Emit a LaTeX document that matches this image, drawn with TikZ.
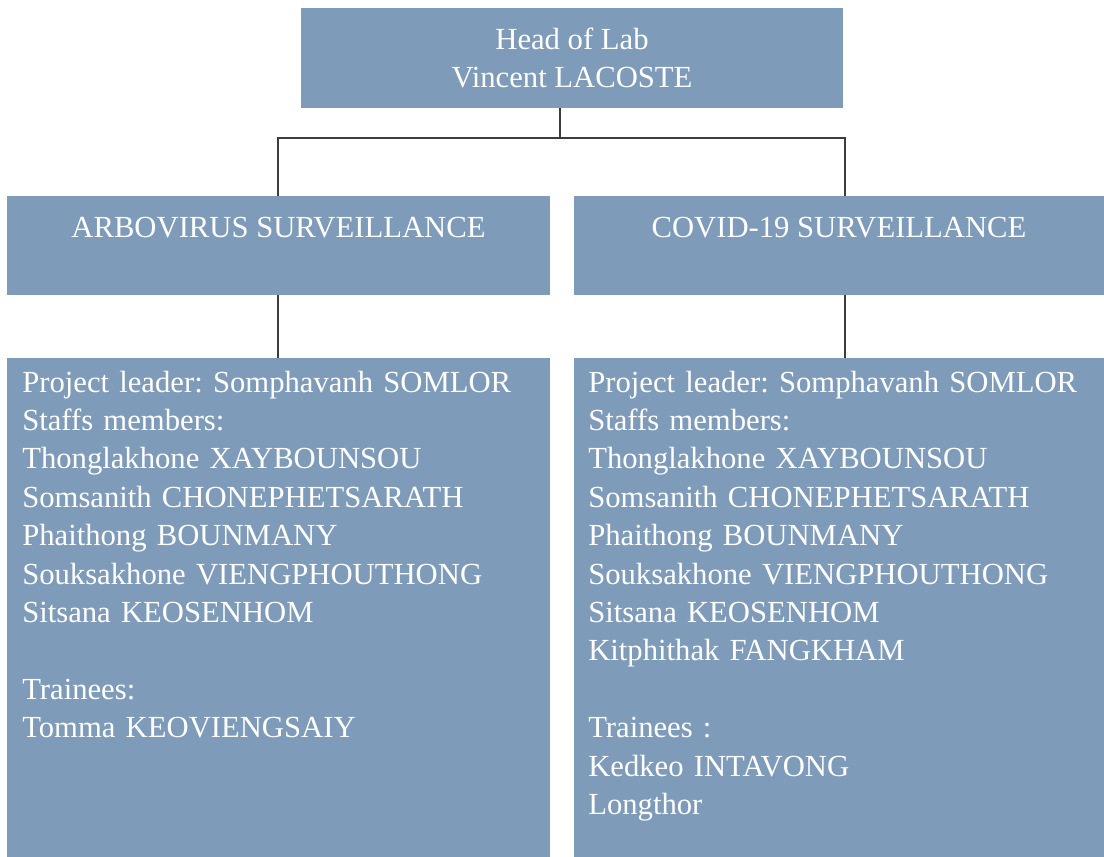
\documentclass[tikz,border=0pt]{standalone}
\usepackage{fontspec}
\setmainfont{Liberation Serif}
\frenchspacing
\definecolor{panelblue}{RGB}{127,155,186}
\definecolor{linkgray}{RGB}{60,60,60}
\begin{document}
\begin{tikzpicture}[x=0.75pt,y=0.75pt,yscale=-1,xscale=1,
    panel/.style={fill=panelblue,draw=none,inner sep=0pt,outer sep=0pt,text=white,
      font=\fontsize{23}{28.8}\selectfont,align=center},
    listtext/.style={anchor=base west,inner sep=0pt,text=white,text width=380pt,
      align=left,font=\fontsize{23}{28.8}\selectfont},
    link/.style={draw=linkgray,line width=1.1pt}]
  \useasboundingbox[fill=white] (0,0) rectangle (1104,857);
  %Shape: Rectangle [head]
  \node [panel,minimum width=406.5pt,minimum height=75pt] (head) at (572,58) {Head of Lab\\Vincent LACOSTE};
  %Shape: Rectangle [arbo]
  \node [panel,minimum width=407.25pt,minimum height=74.25pt] (arbo) at (278.5,245.5) {ARBOVIRUS SURVEILLANCE\\[-10pt]\strut};
  %Shape: Rectangle [covid]
  \node [panel,minimum width=397.5pt,minimum height=74.25pt] (covid) at (839,245.5) {COVID-19 SURVEILLANCE\\[-10pt]\strut};
  %Shape: Rectangle [arboteam]
  \node [panel,minimum width=407.25pt,minimum height=374.25pt] (arboteam) at (278.5,607.5) {};
  %Shape: Rectangle [covidteam]
  \node [panel,minimum width=397.5pt,minimum height=374.25pt] (covidteam) at (839,607.5) {};

  % Text Node
  \node [listtext] (arbolist) at (22,392) {Project leader: Somphavanh SOMLOR\\
    Staffs members:\\
    Thonglakhone XAYBOUNSOU\\
    Somsanith CHONEPHETSARATH\\
    Phaithong BOUNMANY\\
    Souksakhone VIENGPHOUTHONG\\
    Sitsana KEOSENHOM\\
    ~\\
    Trainees:\\
    Tomma KEOVIENGSAIY};
  % Text Node
  \node [listtext] (covidlist) at (588,392) {Project leader: Somphavanh SOMLOR\\
    Staffs members:\\
    Thonglakhone XAYBOUNSOU\\
    Somsanith CHONEPHETSARATH\\
    Phaithong BOUNMANY\\
    Souksakhone VIENGPHOUTHONG\\
    Sitsana KEOSENHOM\\
    Kitphithak FANGKHAM\\
    ~\\
    Trainees :\\
    Kedkeo INTAVONG\\
    Longthor};

  %Straight Lines [connectors]
  \coordinate (trunk) at (560,138);
  \coordinate (busL) at (278,138);
  \coordinate (busR) at (845,138);
  \draw [link] (head.south -| trunk) -- (trunk);
  \draw [link] (arbo.north -| busL) -- (busL) -- (busR) -- (covid.north -| busR);
  \draw [link] (arbo.south -| busL) -- (arboteam.north -| busL);
  \draw [link] (covid.south -| busR) -- (covidteam.north -| busR);
\end{tikzpicture}
\end{document}
